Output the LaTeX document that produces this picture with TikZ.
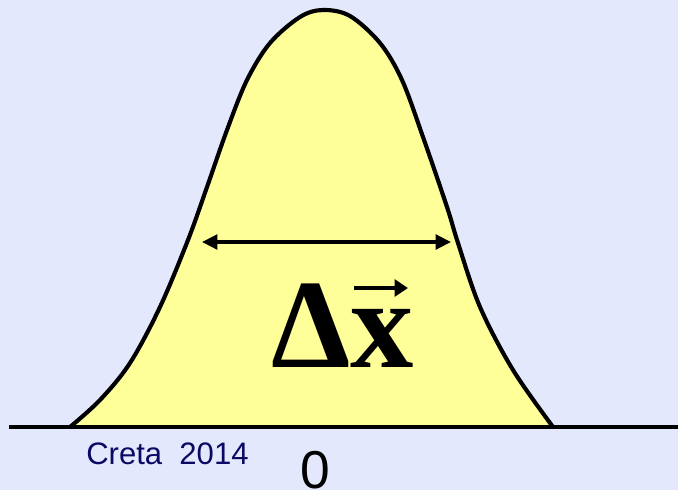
\documentclass[tikz,border=0pt]{standalone}
\usepackage{fontspec}
\setmainfont{Liberation Serif}
\newfontfamily\arialf{Liberation Sans}
\usetikzlibrary{arrows.meta}
\definecolor{bgc}{RGB}{228,232,252}
\definecolor{bellc}{RGB}{255,255,153}
\definecolor{navy}{RGB}{10,10,100}
\tikzset{
  bell/.style={line width=3.1pt, black, line join=round},
  dblarrow/.style={line width=2.5pt, {Triangle[length=11.5pt,width=11pt]}-{Triangle[length=11.5pt,width=11pt]}},
  vecarrow/.style={line width=2.8pt, -{Triangle[length=10pt,width=12.5pt]}},
  credit/.style={font=\arialf\fontsize{23.3}{26}\selectfont, text=navy, inner sep=0pt},
  zero/.style={font=\arialf\fontsize{40}{44}\selectfont, inner sep=0pt},
  symb/.style={font=\bfseries\fontsize{95}{100}\selectfont, inner sep=0pt}
}
\begin{document}
\begin{tikzpicture}[x=0.75pt,y=-0.75pt]
\fill[bgc] (0,0) rectangle (678,490);
\useasboundingbox (0,0) rectangle (678,490);
% bell fill
\fill[bellc] plot[smooth, tension=0.55] coordinates {(70,427) (100,400) (130,363) (160,307) (188,240) (207,187) (227,130) (247,80) (270,43) (300,17) (323,10) (350,16) (380,43) (402,80) (423,137) (447,207) (458,243) (480,307) (513,370) (553,427)} -- cycle;
% bell outline
\draw[bell] plot[smooth, tension=0.55] coordinates {(70,427) (100,400) (130,363) (160,307) (188,240) (207,187) (227,130) (247,80) (270,43) (300,17) (323,10) (350,16) (380,43) (402,80) (423,137) (447,207) (458,243) (480,307) (513,370) (553,427)};
% baseline
\coordinate (bl) at (9,427);
\coordinate (br) at (678,427);
\draw[line width=3.4pt] (bl) -- (br);
% width arrow
\coordinate (al) at (202,242);
\coordinate (ar) at (451,242);
\draw[dblarrow] (al) -- (ar);
% symbol
\node[symb, anchor=base west] (dx) at (271,367) {Δx};
\coordinate (vl) at (354,288);
\coordinate (vr) at (408,288);
\draw[vecarrow] (vl) -- (vr);
% labels
\node[credit, anchor=base west] (cr) at (86,464) {Creta\ \ 2014};
\node[zero, anchor=base] (z) at (315,488) {0};
\end{tikzpicture}
\end{document}
